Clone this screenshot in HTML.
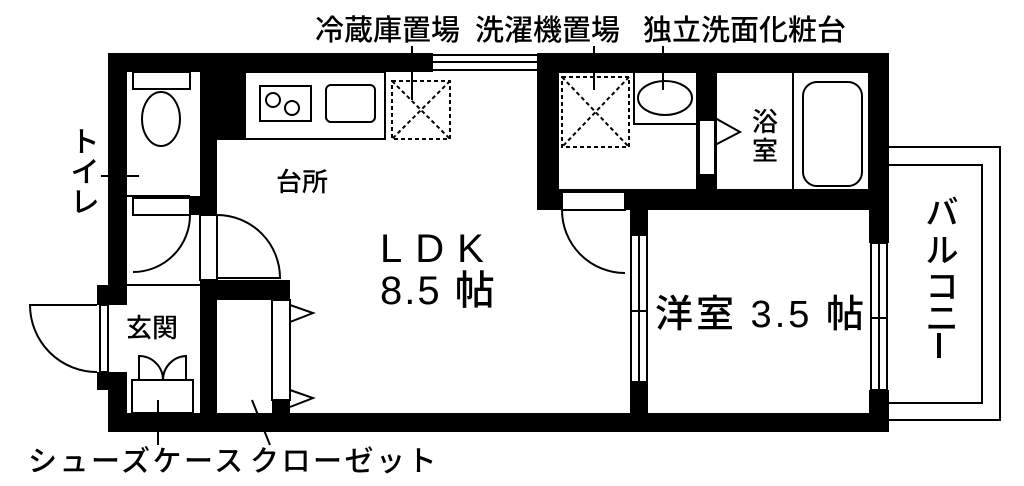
<!DOCTYPE html>
<html><head><meta charset="utf-8"><style>
html,body{margin:0;padding:0;background:#fff;}
svg{display:block;}
text{font-family:"Liberation Sans","Noto Sans CJK JP",sans-serif;fill:#000;font-weight:500;}
</style></head><body>
<svg width="1024" height="486" viewBox="0 0 1024 486" xmlns="http://www.w3.org/2000/svg">
<g fill="#000">
<rect x="108" y="53" width="325" height="19"/>
<rect x="537" y="53" width="352" height="19"/>
<rect x="108" y="413" width="781" height="19"/>
<rect x="869" y="53" width="20" height="190"/>
<rect x="869" y="390" width="20" height="42"/>
<rect x="108" y="53" width="19" height="232"/>
<rect x="97" y="285" width="30" height="20"/>
<rect x="97" y="372" width="30" height="18"/>
<rect x="108" y="372" width="19" height="60"/>
<rect x="200" y="53" width="17" height="162"/>
<rect x="200" y="72" width="45" height="68"/>
<rect x="190" y="196" width="27" height="19"/>
<rect x="200" y="280" width="17" height="140"/>
<rect x="200" y="280" width="90" height="20"/>
<rect x="272" y="400" width="18" height="15"/>
<rect x="537" y="53" width="21" height="157"/>
<rect x="537" y="190" width="25" height="20"/>
<rect x="625" y="190" width="264" height="20"/>
<rect x="697" y="53" width="19" height="67"/>
<rect x="697" y="175" width="19" height="20"/>
<rect x="630" y="190" width="18" height="45"/>
<rect x="630" y="382" width="18" height="40"/>
<rect x="937" y="333" width="4" height="25"/>
</g>
<g fill="none" stroke="#000" stroke-width="2">
<line x1="433" y1="55" x2="537" y2="55"/><line x1="433" y1="62" x2="537" y2="62"/><line x1="433" y1="70" x2="537" y2="70"/>
<rect x="133" y="72" width="57" height="17"/>
<ellipse cx="161" cy="119" rx="19" ry="27"/>
<line x1="127" y1="196" x2="190" y2="196"/>
<rect x="133" y="198" width="57" height="17"/>
<path d="M190 215 A57 57 0 0 1 133 272"/>
<line x1="127" y1="285" x2="200" y2="285"/>
<rect x="200" y="215" width="17" height="65"/>
<path d="M217 215 A63 63 0 0 1 280 278 L217 278"/>
<rect x="100" y="305" width="8" height="67"/>
<line x1="108" y1="305" x2="108" y2="372"/>
<path d="M97 305 L30 305 A67 67 0 0 0 97 372"/>
<rect x="132" y="380" width="61" height="33"/>
<path d="M139 380 L139 356 A24 24 0 0 1 163 380 M186 380 L186 356 A24 24 0 0 0 163 380"/>
<rect x="272" y="300" width="18" height="100"/>
<path d="M290 305 L313 313 L290 322 M290 390 L313 398 L290 407"/>
<rect x="245" y="72" width="140" height="67"/>
<rect x="260" y="86" width="51" height="35"/>
<circle cx="273" cy="100" r="7"/><circle cx="292" cy="108" r="7"/>
<rect x="326" y="85" width="49" height="37" rx="5"/>
<rect x="558" y="72" width="139" height="118"/>
<rect x="634" y="72" width="63" height="52"/>
<ellipse cx="665" cy="98" rx="27" ry="17"/>
<rect x="699" y="120" width="16" height="55"/>
<path d="M715 118 L740 132 L715 145"/>
<rect x="562" y="192" width="63" height="18"/>
<path d="M562 210 A63 63 0 0 0 625 273"/>
<rect x="716" y="72" width="153" height="118"/>
<line x1="793" y1="72" x2="793" y2="190"/>
<rect x="803" y="82" width="59" height="104" rx="14"/>
<rect x="631" y="235" width="16" height="147"/>
<line x1="639" y1="235" x2="639" y2="382"/>
<line x1="632" y1="311" x2="646" y2="311"/>
<rect x="871" y="243" width="16" height="147"/>
<line x1="879" y1="243" x2="879" y2="390"/>
<line x1="872" y1="318" x2="886" y2="318"/>
<path d="M889 147 L1000 147 L1000 420 L889 420"/>
<path d="M889 165 L982 165 L982 403 L889 403"/>
<line x1="412" y1="46" x2="412" y2="100"/>
<line x1="594" y1="46" x2="594" y2="90"/>
<line x1="663" y1="46" x2="663" y2="90"/>
<line x1="101" y1="176" x2="139" y2="176"/>
<line x1="158" y1="400" x2="158" y2="445"/>
<line x1="252" y1="400" x2="270" y2="445"/>
</g>
<g fill="none" stroke="#000" stroke-width="2" stroke-dasharray="4 3">
<rect x="392" y="81" width="58" height="58"/>
<path d="M392 81 L450 139 M450 81 L392 139"/>
<rect x="562" y="77" width="67" height="70"/>
<path d="M562 77 L629 147 M629 77 L562 147"/>
</g>
<g font-size="29">
<text x="315" y="40">冷蔵庫置場</text>
<text x="475" y="40">洗濯機置場</text>
<text x="643" y="40">独立洗面化粧台</text>
<text x="28" y="471" letter-spacing="2.5">シューズケース</text>
<text x="250" y="471" letter-spacing="2.5">クローゼット</text>
</g>
<g font-size="29" text-anchor="middle">
<text x="85" y="152">ト</text><text x="85" y="182">イ</text><text x="85" y="212">レ</text>
</g>
<g font-size="33" text-anchor="middle">
<text x="942" y="224">バ</text><text x="942" y="262">ル</text><text x="942" y="298">コ</text><text x="942" y="330">ニ</text>
</g>
<text x="276" y="191" font-size="26">台所</text>
<text x="126" y="337" font-size="26">玄関</text>
<g font-size="26" text-anchor="middle"><text x="765" y="131">浴</text><text x="765" y="160">室</text></g>
<text x="380" y="262" font-size="40" letter-spacing="13">LDK</text>
<text x="380" y="304" font-size="40" letter-spacing="2">8.5 帖</text>
<text x="655" y="327" font-size="38" letter-spacing="3">洋室 3.5 帖</text>
</svg>
</body></html>
